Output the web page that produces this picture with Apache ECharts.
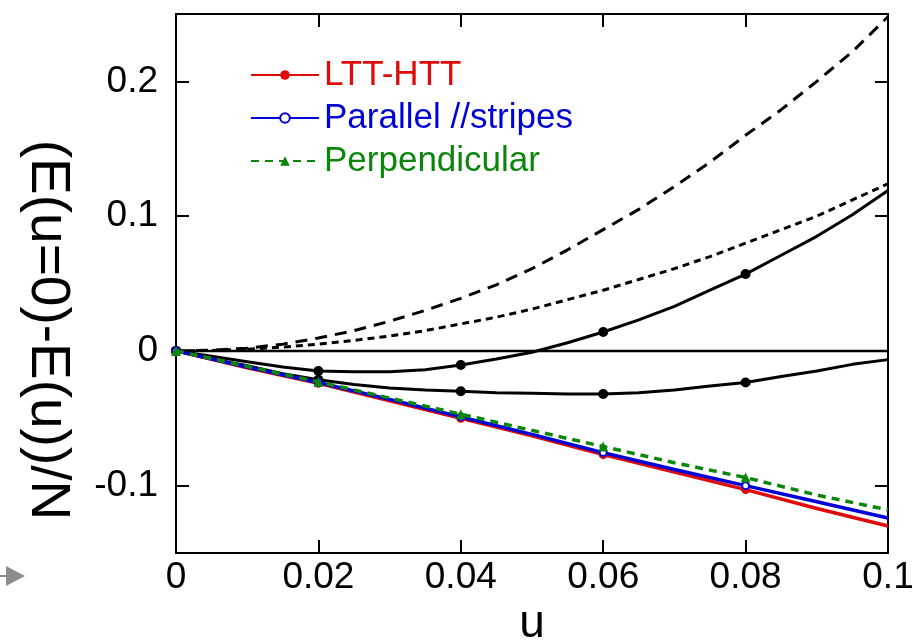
<!DOCTYPE html>
<html>
<head>
<meta charset="utf-8">
<script src="https://cdn.jsdelivr.net/npm/echarts@6/dist/echarts.min.js"></script>
<style>
  html, body { margin: 0; padding: 0; background: #fff; }
  #chart { width: 913px; height: 642px; }
</style>
</head>
<body>
<div id="chart"></div>
<script>
// u grids
const uFine = [0, 0.005, 0.01, 0.015, 0.02, 0.025, 0.03, 0.035, 0.04, 0.045, 0.05,
  0.055, 0.06, 0.065, 0.07, 0.075, 0.08, 0.085, 0.09, 0.095, 0.1]
const uCoarse = [0, 0.01, 0.02, 0.03, 0.04, 0.05, 0.06, 0.07, 0.08, 0.09, 0.1]
const markerU = [0, 0.02, 0.04, 0.06, 0.08]

// black reference curves (no legend)
const longDashed = [0, 0.0005, 0.002, 0.005, 0.0095, 0.015, 0.022, 0.030, 0.039, 0.049, 0.061,
  0.075, 0.090, 0.105, 0.122, 0.140, 0.160, 0.179, 0.200, 0.222, 0.248]
const shortDashed = [0, 0.0003, 0.0012, 0.0028, 0.005, 0.0078, 0.011, 0.015, 0.020, 0.025, 0.031,
  0.038, 0.045, 0.053, 0.061, 0.070, 0.080, 0.090, 0.100, 0.112, 0.124]
const upperSolid = [0, -0.004, -0.008, -0.012, -0.015, -0.0155, -0.0155, -0.014, -0.0105, -0.006, -0.001,
  0.006, 0.014, 0.023, 0.033, 0.045, 0.057, 0.071, 0.085, 0.101, 0.119]
const lowerSolid = [0, -0.006, -0.011, -0.017, -0.0215, -0.025, -0.0275, -0.029, -0.030, -0.031, -0.0315,
  -0.032, -0.032, -0.031, -0.029, -0.026, -0.0235, -0.019, -0.015, -0.010, -0.0065]

// coloured curves
const lttHtt = [0, -0.0125, -0.024, -0.037, -0.050, -0.063, -0.077, -0.090, -0.103, -0.117, -0.130]
const parallel = [0, -0.012, -0.0235, -0.036, -0.049, -0.062, -0.0755, -0.088, -0.100, -0.112, -0.124]
const perpendicular = [0, -0.0115, -0.023, -0.035, -0.047, -0.059, -0.071, -0.083, -0.094, -0.107, -0.118]

const yTicks = [-0.1, 0, 0.1, 0.2]
const zeroLine = [[0, 0], [0.1, 0]]
const yTitle = '(E(u=0)-E(u))/N'

// pair u with values, symbols only on marker u
const withMarkers = (us, vs) => us.map((u, i) => {
  const onMarker = markerU.some(m => Math.abs(m - u) < 1e-9)
  return onMarker ? { value: [u, vs[i]] } : { value: [u, vs[i]], symbol: 'none' }
})

const FONT = 'Liberation Sans, Arial, sans-serif'

const chart = echarts.init(document.getElementById('chart'))

const blackLine = (name, us, vs, type, markers) => ({
  name,
  type: 'line',
  data: markers ? withMarkers(us, vs) : us.map((u, i) => [u, vs[i]]),
  symbol: markers ? 'circle' : 'none',
  symbolSize: 10,
  showSymbol: true,
  itemStyle: { color: '#000' },
  lineStyle: { color: '#000', width: 3, type },
  silent: true,
  z: 2
})

const boxLine = { onZero: false, lineStyle: { color: '#000', width: 2 } }
const inTick = { show: true, inside: true, length: 13, lineStyle: { color: '#000', width: 2 } }

chart.setOption({
  animation: false,
  textStyle: { fontFamily: FONT },
  grid: { left: 176, right: 25, top: 14, bottom: 89, outerBoundsMode: 'none' },
  legend: {
    orient: 'vertical',
    left: 250,
    top: 57,
    padding: 0,
    itemWidth: 68,
    itemHeight: 12,
    itemGap: 7,
    textStyle: { fontSize: 35, lineHeight: 36, fontFamily: FONT },
    data: [
      { name: 'LTT-HTT', textStyle: { color: '#e00a0a' } },
      { name: 'Parallel //stripes', textStyle: { color: '#0000d8' } },
      { name: 'Perpendicular', textStyle: { color: '#0b860b' } }
    ]
  },
  xAxis: [
    {
      type: 'value',
      min: 0,
      max: 0.1,
      interval: 0.02,
      name: 'u',
      nameLocation: 'middle',
      nameGap: 44,
      nameTextStyle: { fontSize: 46, color: '#000', fontFamily: FONT },
      axisLine: { show: true, ...boxLine },
      axisTick: inTick,
      axisLabel: { fontSize: 37, color: '#000', margin: 6, fontFamily: FONT },
      splitLine: { show: false }
    },
    {
      type: 'value',
      position: 'top',
      min: 0,
      max: 0.1,
      interval: 0.02,
      axisLine: { show: true, ...boxLine },
      axisTick: inTick,
      axisLabel: { show: false },
      splitLine: { show: false }
    }
  ],
  yAxis: [
    {
      type: 'value',
      min: -0.15,
      max: 0.25,
      axisLine: { show: true, ...boxLine },
      axisTick: { ...inTick, customValues: yTicks },
      axisLabel: { fontSize: 37, color: '#000', margin: 18, customValues: yTicks, fontFamily: FONT },
      splitLine: { show: false }
    },
    {
      type: 'value',
      position: 'right',
      min: -0.15,
      max: 0.25,
      axisLine: { show: true, ...boxLine },
      axisTick: { ...inTick, customValues: yTicks },
      axisLabel: { show: false },
      splitLine: { show: false }
    }
  ],
  graphic: [
    {
      type: 'text',
      x: 47,
      y: 330,
      rotation: -Math.PI / 2,
      style: {
        text: yTitle,
        font: '55px ' + FONT,
        fill: '#000',
        align: 'center',
        verticalAlign: 'middle'
      }
    },
    {
      type: 'group',
      left: 0,
      top: 566,
      children: [
        { type: 'rect', shape: { x: 0, y: 9, width: 8, height: 2 }, style: { fill: '#8c8c8c' } },
        { type: 'polygon', shape: { points: [[6, 0], [25, 10], [6, 20]] }, style: { fill: '#8c8c8c' } }
      ]
    }
  ],
  series: [
    {
      name: 'zero',
      type: 'line',
      data: zeroLine,
      symbol: 'none',
      lineStyle: { color: '#000', width: 2.5 },
      silent: true,
      z: 1
    },
    blackLine('longDashed', uFine, longDashed, [12, 8], false),
    blackLine('shortDashed', uFine, shortDashed, [7, 5], false),
    blackLine('upperSolid', uFine, upperSolid, 'solid', true),
    blackLine('lowerSolid', uFine, lowerSolid, 'solid', true),
    {
      name: 'LTT-HTT',
      type: 'line',
      data: withMarkers(uCoarse, lttHtt),
      symbol: 'circle',
      symbolSize: 9,
      itemStyle: { color: '#e00a0a' },
      lineStyle: { color: '#e00a0a', width: 3.5 },
      z: 3
    },
    {
      name: 'Parallel //stripes',
      type: 'line',
      data: withMarkers(uCoarse, parallel),
      symbol: 'emptyCircle',
      symbolSize: 7,
      itemStyle: { color: '#0000d8', borderWidth: 2 },
      lineStyle: { color: '#0000d8', width: 3.5 },
      z: 4
    },
    {
      name: 'Perpendicular',
      type: 'line',
      data: withMarkers(uCoarse, perpendicular),
      symbol: 'triangle',
      symbolSize: 10,
      itemStyle: { color: '#0b860b' },
      lineStyle: { color: '#0b860b', width: 3.5, type: [8, 6] },
      z: 5
    }
  ]
})
</script>
</body>
</html>
